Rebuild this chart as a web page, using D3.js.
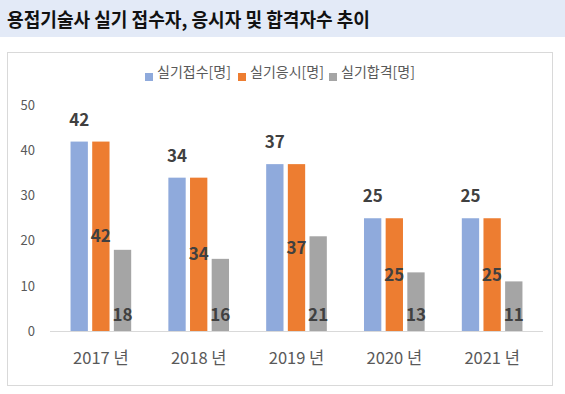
<!DOCTYPE html>
<html><head><meta charset="utf-8">
<script src="https://cdn.jsdelivr.net/npm/d3@7"></script>
<style>body{margin:0;background:#fff;}svg{display:block;}</style>
</head><body>
<script>
const title = "용접기술사 실기 접수자, 응시자 및 합격자수 추이";
const years = ["2017 년", "2018 년", "2019 년", "2020 년", "2021 년"];
const seriesNames = ["실기접수[명]", "실기응시[명]", "실기합격[명]"];
const applied = [42, 34, 37, 25, 25];
const tested = [42, 34, 37, 25, 25];
const passed = [18, 16, 21, 13, 11];
const yTicks = [0, 10, 20, 30, 40, 50];
const colors = ["#8faadc", "#ed7d31", "#a5a5a5"];
const seriesValues = [applied, tested, passed];

const W = 565, H = 394;
const svg = d3.select("body").append("svg").attr("width", W).attr("height", H);
const font = "'Noto Sans CJK KR', 'Noto Sans', sans-serif";

// title band
svg.append("rect").attr("x",0).attr("y",0).attr("width",W).attr("height",37).attr("fill","#e3eaf7");
const t = svg.append("text").attr("x",7).attr("y",27).attr("font-family",font).attr("font-weight","bold")
  .attr("font-size",19).attr("fill","#111").text(title);
const tw = t.node().getComputedTextLength();
if (tw > 0) t.attr("textLength", 363).attr("lengthAdjust", "spacingAndGlyphs");

// chart border
svg.append("rect").attr("x",7.5).attr("y",52.5).attr("width",545).attr("height",333)
  .attr("fill","#fff").attr("stroke","#d9d9d9").attr("stroke-width",1);

const y = d3.scaleLinear().domain([0,50]).range([331,105.5]);
const x0 = d3.scaleBand().domain(years).range([50,543]).paddingInner(0.38).paddingOuter(0.21);
const x1 = d3.scaleBand().domain(seriesNames).range([0, x0.bandwidth()]).paddingInner(0.2);

// y axis labels
const yAxis = d3.axisLeft(y).tickValues(yTicks).tickSize(0).tickPadding(0);
const ya = svg.append("g").attr("transform","translate(35,0)").call(yAxis);
ya.select(".domain").remove();
ya.selectAll("text").attr("font-family",font).attr("font-size",13).attr("fill","#595959");

// baseline
svg.append("line").attr("x1",50).attr("x2",543).attr("y1",y(0)+0.5).attr("y2",y(0)+0.5)
  .attr("stroke","#d9d9d9").attr("stroke-width",1);

// bars
const groups = svg.append("g").selectAll("g").data(years).join("g")
  .attr("transform", d => `translate(${x0(d)},0)`);
seriesNames.forEach((s, si) => {
  groups.append("rect")
    .attr("x", x1(s)).attr("width", x1.bandwidth())
    .attr("y", (d,i) => y(seriesValues[si][i]))
    .attr("height", (d,i) => y(0) - y(seriesValues[si][i]))
    .attr("fill", colors[si]);
});

// labels
const lab = (sel) => sel.attr("font-family",font).attr("font-weight","bold").attr("font-size",17)
  .attr("fill","#404040").attr("text-anchor","middle");
groups.append("text").call(lab)
  .attr("x", x1(seriesNames[0]) + x1.bandwidth()/2)
  .attr("y", (d,i) => y(applied[i]) - 16).text((d,i) => applied[i]);
groups.append("text").call(lab)
  .attr("x", x1(seriesNames[1]) + x1.bandwidth()/2)
  .attr("y", (d,i) => (y(tested[i]) + y(0))/2 + 6).text((d,i) => tested[i]);
groups.append("text").call(lab)
  .attr("x", x1(seriesNames[2]) + x1.bandwidth()/2)
  .attr("y", y(0) - 10).text((d,i) => passed[i]);

// x axis labels
const xAxis = d3.axisBottom(x0).tickSize(0).tickPadding(0);
const xa = svg.append("g").attr("transform","translate(0,352)").call(xAxis);
xa.select(".domain").remove();
xa.selectAll("text").attr("font-family",font).attr("font-size",16.5).attr("fill","#595959");

// legend
const legendX = [145, 238, 329];
const lg = svg.append("g");
seriesNames.forEach((s, i) => {
  lg.append("rect").attr("x", legendX[i]).attr("y", 73).attr("width", 8).attr("height", 8).attr("fill", colors[i]);
  lg.append("text").attr("x", legendX[i] + 12).attr("y", 76.5).attr("font-family",font).attr("font-size",14)
    .attr("fill","#595959").text(s);
});
</script>
</body></html>
